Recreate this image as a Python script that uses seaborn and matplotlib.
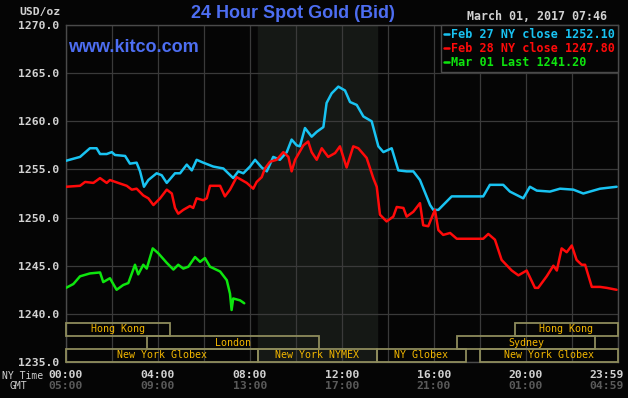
import seaborn as sns
import matplotlib.pyplot as plt
import matplotlib.transforms as mtransforms
from matplotlib.patches import Rectangle
import numpy as np
import pandas as pd

# hours after NY midnight, spot price
feb27_hours = [0.00, 0.61, 1.04, 1.33, 1.48, 1.77, 1.99, 2.13, 2.57, 2.78, 3.07, 3.22, 3.39, 3.58,
               3.94, 4.16, 4.38, 4.74, 4.96, 5.25, 5.47, 5.68, 5.97, 6.40, 6.84, 7.27, 7.49, 7.71,
               8.00, 8.22, 8.51, 8.73, 9.01, 9.30, 9.60, 9.81, 10.03, 10.17, 10.39, 10.68, 10.90,
               11.19, 11.33, 11.55, 11.84, 12.13, 12.35, 12.64, 12.93, 13.29, 13.58, 13.80, 14.16,
               14.45, 14.81, 15.10, 15.39, 15.83, 15.97, 16.19, 16.77, 16.99, 18.14, 18.43, 19.01,
               19.30, 19.88, 20.17, 20.47, 21.04, 21.48, 22.06, 22.49, 23.22, 23.94]
feb27_price = [1255.9, 1256.3, 1257.2, 1257.2, 1256.6, 1256.6, 1256.8, 1256.5, 1256.4, 1255.6,
               1255.7, 1254.8, 1253.2, 1253.9, 1254.6, 1254.4, 1253.6, 1254.6, 1254.6, 1255.5,
               1254.9, 1256.0, 1255.7, 1255.3, 1255.1, 1254.1, 1254.8, 1254.6, 1255.3, 1256.0,
               1255.2, 1254.8, 1256.3, 1256.0, 1256.8, 1258.1, 1257.5, 1257.4, 1259.3, 1258.4,
               1258.9, 1259.4, 1261.9, 1262.9, 1263.6, 1263.2, 1262.0, 1261.7, 1260.5, 1260.0,
               1257.4, 1256.8, 1257.2, 1254.9, 1254.8, 1254.8, 1253.9, 1251.3, 1250.8, 1250.8,
               1252.2, 1252.2, 1252.2, 1253.4, 1253.4, 1252.7, 1252.0, 1253.2, 1252.8, 1252.7,
               1253.0, 1252.9, 1252.5, 1253.0, 1253.2]

feb28_hours = [0.00, 0.61, 0.83, 1.19, 1.48, 1.77, 1.91, 2.27, 2.64, 2.86, 3.07, 3.36, 3.58, 3.80,
               4.09, 4.38, 4.60, 4.74, 4.88, 5.10, 5.39, 5.53, 5.68, 5.97, 6.12, 6.26, 6.70, 6.91,
               7.13, 7.42, 7.64, 7.86, 8.14, 8.29, 8.51, 8.65, 8.87, 9.16, 9.45, 9.67, 9.81, 9.96,
               10.32, 10.53, 10.68, 10.90, 11.12, 11.40, 11.70, 11.91, 12.20, 12.49, 12.71, 13.07,
               13.36, 13.51, 13.65, 13.94, 14.23, 14.38, 14.67, 14.81, 15.10, 15.39, 15.53, 15.75,
               15.97, 16.04, 16.19, 16.40, 16.70, 16.99, 18.14, 18.36, 18.65, 18.94, 19.38, 19.67,
               20.03, 20.39, 20.53, 20.90, 21.19, 21.34, 21.55, 21.77, 21.99, 22.20, 22.42, 22.57,
               22.86, 23.22, 23.51, 23.94]
feb28_price = [1253.2, 1253.3, 1253.7, 1253.6, 1254.1, 1253.6, 1253.9, 1253.6, 1253.3, 1252.9,
               1253.0, 1252.3, 1252.0, 1251.3, 1252.0, 1252.9, 1252.5, 1251.0, 1250.4, 1250.8,
               1251.2, 1251.0, 1252.0, 1251.8, 1252.0, 1253.3, 1253.3, 1252.2, 1252.9, 1254.2,
               1253.9, 1253.6, 1253.0, 1253.7, 1254.2, 1255.1, 1255.8, 1256.0, 1256.8, 1256.3,
               1254.8, 1256.0, 1257.5, 1257.9, 1256.8, 1256.0, 1257.2, 1256.3, 1256.7, 1257.4,
               1255.2, 1257.4, 1257.2, 1256.2, 1254.1, 1253.2, 1250.3, 1249.6, 1250.1, 1251.1,
               1251.0, 1250.1, 1250.6, 1251.5, 1249.2, 1249.1, 1250.4, 1250.8, 1248.7, 1248.2,
               1248.4, 1247.8, 1247.8, 1248.3, 1247.7, 1245.6, 1244.5, 1244.0, 1244.5, 1242.7,
               1242.7, 1243.9, 1245.0, 1244.5, 1246.8, 1246.4, 1247.1, 1245.6, 1245.1, 1245.1,
               1242.8, 1242.8, 1242.7, 1242.5]

mar01_hours = [0.00, 0.32, 0.61, 1.04, 1.48, 1.62, 1.91, 2.20, 2.49, 2.71, 3.00, 3.14, 3.36, 3.51,
               3.77, 4.01, 4.38, 4.67, 4.88, 5.10, 5.32, 5.61, 5.83, 6.04, 6.26, 6.70, 6.99, 7.13,
               7.20, 7.27, 7.57, 7.75]
mar01_price = [1242.7, 1243.1, 1243.9, 1244.2, 1244.3, 1243.3, 1243.7, 1242.5, 1243.0, 1243.2,
               1245.1, 1244.1, 1245.1, 1244.7, 1246.8, 1246.3, 1245.3, 1244.6, 1245.1, 1244.7,
               1244.9, 1245.9, 1245.4, 1245.8, 1244.9, 1244.4, 1243.5, 1242.1, 1240.4, 1241.6,
               1241.4, 1241.1]

series_names = ["Feb 27 NY close", "Feb 28 NY close", "Mar 01 Last"]
series_values = [1252.10, 1247.80, 1241.20]
series_colors = ["#19c3f2", "#ff0a0a", "#0ee60e"]

# trading sessions: name, start hour, end hour, row (0 = top)
session_names = ["Hong Kong", "London", "New York Globex", "New York NYMEX", "NY Globex",
                 "Sydney", "New York Globex", "Hong Kong"]
session_start = [0, 3.5, 0, 8.33, 13.5, 17.0, 18.0, 19.5]
session_end = [4.5, 11.0, 8.33, 13.5, 17.4, 23.0, 24.0, 24.0]
session_row = [0, 1, 2, 2, 2, 1, 2, 0]

x_ticks = [0, 4, 8, 12, 16, 20, 24]
ny_labels = ["00:00", "04:00", "08:00", "12:00", "16:00", "20:00", "23:59"]
gmt_labels = ["05:00", "09:00", "13:00", "17:00", "21:00", "01:00", "04:59"]

bg = "#050505"
sns.set_style("dark", {"axes.facecolor": bg, "figure.facecolor": bg,
                       "axes.edgecolor": "#4a4a4a", "grid.color": "#3a3a3a"})
plt.rcParams['font.family'] = ['DejaVu Sans Mono', 'DejaVu Sans']

frames = []
for name, val, hrs, prc in zip(series_names, series_values,
                               [feb27_hours, feb28_hours, mar01_hours],
                               [feb27_price, feb28_price, mar01_price]):
    frames.append(pd.DataFrame({"hour": hrs, "price": prc,
                                "series": f"{name} {val:.2f}"}))
df = pd.concat(frames, ignore_index=True)
labels = [f"{n} {v:.2f}" for n, v in zip(series_names, series_values)]

fig = plt.figure(figsize=(6.28, 3.98), dpi=100)
ax = fig.add_axes([66/628, 1-362/398, 552/628, 337/398])

ax.axvspan(8.33, 13.5, color="#151815", zorder=0)
ax.grid(True, color="#3a3a3a", linewidth=0.9, zorder=1)
ax.set_axisbelow(True)

sns.lineplot(data=df, x="hour", y="price", hue="series", hue_order=labels,
             palette=dict(zip(labels, series_colors)), estimator=None, sort=False,
             linewidth=1.8, ax=ax, zorder=3)

ax.set_xlim(0, 24)
ax.set_ylim(1235, 1270)
ax.set_xticks(np.arange(0, 25, 2))
ax.set_xticklabels([])
ax.set_yticks(np.arange(1235, 1271, 5))
ax.set_yticklabels([f"{v:.1f}" for v in np.arange(1235, 1271, 5)],
                   fontweight="bold", fontsize=8.2)
ax.tick_params(length=0, colors="#d2d2d2", pad=5)
ax.set_xlabel("")
ax.set_ylabel("")
for s in ax.spines.values():
    s.set_color("#4a4a4a")
    s.set_linewidth(1.0)

# session bars
row_h = 35 * 13 / 337
for name, a, b, r in zip(session_names, session_start, session_end, session_row):
    y0 = 1235 + (2 - r) * row_h
    ax.add_patch(Rectangle((a, y0), b - a, row_h, fill=False, edgecolor="#8e8c5c",
                           linewidth=1.3, zorder=4, clip_on=False))
    ax.text((a + b) / 2, y0 + row_h / 2, name, color="#f2b600", fontsize=7.2,
            ha="center", va="center", zorder=5)

# legend
handles, _ = ax.get_legend_handles_labels()
leg = ax.legend(handles, labels, loc="upper right", labelcolor="linecolor",
                prop={"family": "DejaVu Sans Mono", "weight": "bold", "size": 8.5},
                handlelength=0.5, handletextpad=0.15, borderpad=0.25, labelspacing=0.1,
                borderaxespad=0, facecolor=bg, edgecolor="#4a4a4a", framealpha=1,
                fancybox=False)
leg.get_frame().set_linewidth(1.0)
leg.set_zorder(6)

# x labels (NY time and GMT)
trans = ax.get_xaxis_transform()
for i, (t, ny, gmt) in enumerate(zip(x_ticks, ny_labels, gmt_labels)):
    ha = "right" if i == len(x_ticks) - 1 else "center"
    tr = mtransforms.offset_copy(trans, fig=fig, x=(6 if ha == "right" else 0), units="dots")
    ax.text(t, -0.04, ny, transform=tr, ha=ha, va="center", color="#d2d2d2",
            fontweight="bold", fontsize=8.2)
    ax.text(t, -0.07, gmt, transform=tr, ha=ha, va="center", color="#5a5a5a",
            fontweight="bold", fontsize=8.2)
fig.text(2/628, 1-376/398, "NY Time", ha="left", va="center", color="#d2d2d2", fontsize=7)
fig.text(10/628, 1-386/398, "GMT", ha="left", va="center", color="#d2d2d2", fontsize=7)

fig.text(61/628, 1-12/398, "USD/oz", ha="right", va="center", color="#d2d2d2",
         fontweight="bold", fontsize=8.2)
fig.text(607/628, 1-17/398, "March 01, 2017 07:46", ha="right", va="center",
         color="#d2d2d2", fontweight="bold", fontsize=8.4)
fig.text(293/628, 1-14/398, "24 Hour Spot Gold (Bid)", ha="center", va="center",
         color="#4d6ef2", fontsize=13, fontweight="bold", family="Liberation Sans")
fig.text(68/628, 1-47/398, "www.kitco.com", ha="left", va="center", color="#4d6ef2",
         fontsize=13, fontweight="bold", family="Liberation Sans")

fig.savefig("out.png", dpi=100, facecolor=bg)
